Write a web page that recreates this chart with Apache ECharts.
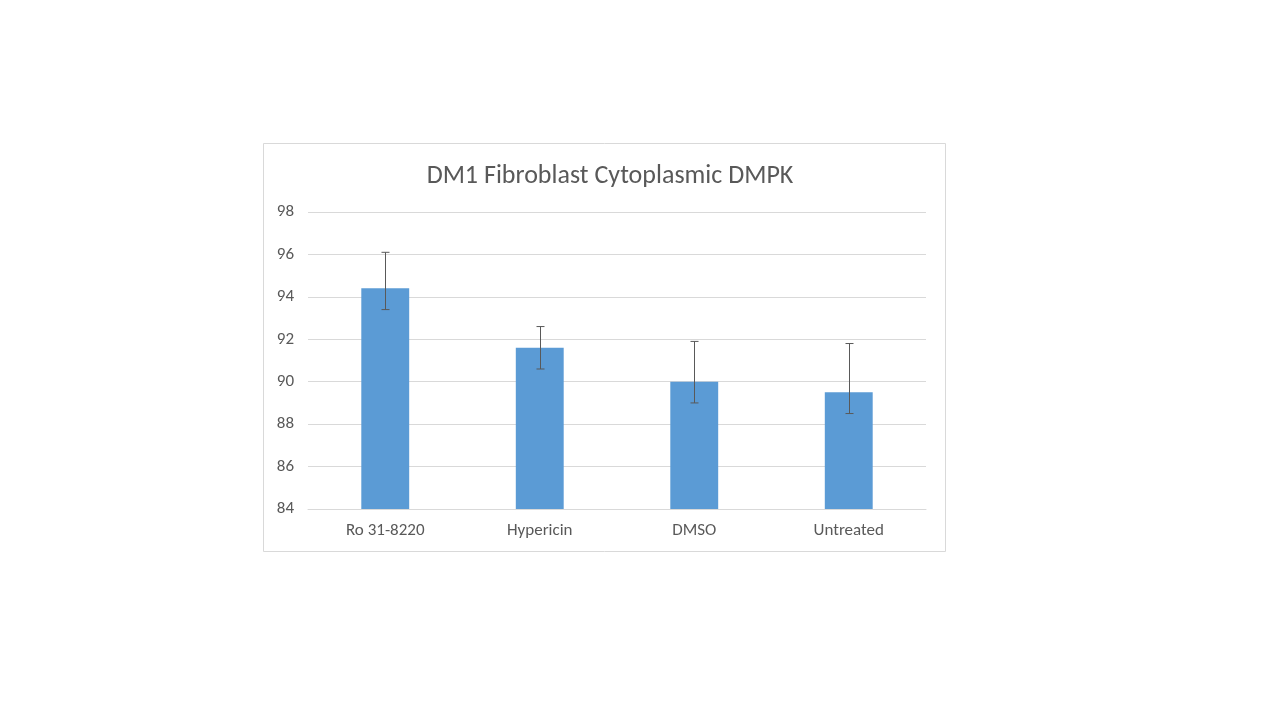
<!DOCTYPE html>
<html><head><meta charset="utf-8">
<script src="https://cdn.jsdelivr.net/npm/echarts@6/dist/echarts.min.js"></script>
<style>html,body{margin:0;padding:0;background:#fff}#c{width:1280px;height:720px}</style>
</head><body><div id="c"></div>
<script>
const categories = ['Ro 31-8220', 'Hypericin', 'DMSO', 'Untreated'];
const values = [94.4, 91.6, 90.0, 89.5];
const errHigh = [96.1, 92.6, 91.9, 91.8];
const errLow = [93.4, 90.6, 89.0, 88.5];
const yTicks = [84, 86, 88, 90, 92, 94, 96, 98];

const chart = echarts.init(document.getElementById('c'), null, {renderer: 'canvas'});
const font = 'Calibri, Carlito, "Open Sans", "Noto Sans", sans-serif';
chart.setOption({
  animation: false,
  backgroundColor: '#fff',
  title: {
    text: 'DM1 Fibroblast Cytoplasmic DMPK',
    left: 605, top: 158, textAlign: 'center',
    textStyle: {fontFamily: font, fontSize: 26, fontWeight: 'normal', color: '#595959'}
  },
  graphic: [{
    type: 'rect', shape: {x: 263.5, y: 143.5, width: 682, height: 408},
    style: {fill: 'none', stroke: '#d9d9d9', lineWidth: 1}, silent: true, z: -1
  }],
  grid: {left: 308, right: 354, top: 212, bottom: 211, containLabel: false},
  xAxis: {
    type: 'category', data: categories,
    axisLine: {show: true, lineStyle: {color: '#d9d9d9'}},
    axisTick: {show: false},
    axisLabel: {fontFamily: font, fontSize: 17, color: '#595959', margin: 13}
  },
  yAxis: {
    type: 'value', min: yTicks[0], max: yTicks[yTicks.length - 1], interval: 2,
    axisLine: {show: false}, axisTick: {show: false},
    splitLine: {lineStyle: {color: '#d9d9d9'}},
    axisLabel: {fontFamily: font, fontSize: 17, color: '#595959', margin: 14}
  },
  series: [{
    type: 'bar', data: values, barWidth: '31%',
    itemStyle: {color: '#5b9bd5'}
  }, {
    type: 'custom',
    data: categories.map((c, i) => [i, errLow[i], errHigh[i]]),
    renderItem: function (params, api) {
      const x = api.value(0);
      const lo = api.coord([x, api.value(1)]);
      const hi = api.coord([x, api.value(2)]);
      const cx = Math.round(lo[0]) + 0.5;
      const hw = 4;
      const st = {stroke: '#595959', lineWidth: 1};
      return {type: 'group', children: [
        {type: 'line', shape: {x1: cx, y1: hi[1], x2: cx, y2: lo[1]}, style: st},
        {type: 'line', shape: {x1: cx - hw, y1: hi[1], x2: cx + hw, y2: hi[1]}, style: st},
        {type: 'line', shape: {x1: cx - hw, y1: lo[1], x2: cx + hw, y2: lo[1]}, style: st}
      ]};
    },
    z: 10
  }]
});
</script></body></html>
